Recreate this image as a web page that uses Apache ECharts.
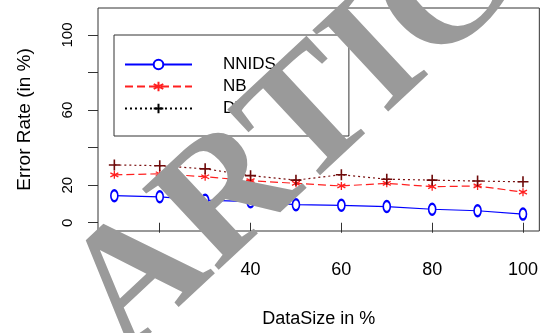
<!DOCTYPE html>
<html style="height: 100%">
<head>
    <meta charset="UTF-8">
    <script src="https://cdn.jsdelivr.net/npm/echarts@6/dist/echarts.min.js"></script>
</head>
<body style="height: 100%; margin: 0; background: #fff">
    <div id="main" style="width: 541px; height: 333px;"></div>
    <script type="text/javascript">
        var myChart = echarts.init(document.getElementById('main'));

        // data
        var dataSize = [10, 20, 30, 40, 50, 60, 70, 80, 90, 100];
        var nnids = [14.4, 13.8, 12.0, 11.2, 9.6, 9.3, 8.6, 7.2, 6.4, 4.6];
        var nb = [25.5, 26.1, 24.5, 22.4, 21.0, 19.6, 21.0, 19.2, 19.6, 16.3];
        var dt = [30.8, 30.4, 28.7, 25.1, 22.7, 25.6, 23.2, 22.7, 22.2, 21.8];
        var seriesNames = ['NNIDS', 'NB', 'DT'];
        var xTicks = [20, 40, 60, 80, 100];
        var yTicks = [0, 20, 40, 60, 80, 100];
        var yLabels = [0, 20, 60, 100];

        function pairs(vals) {
            return dataSize.map(function (x, i) { return [x, vals[i]]; });
        }

        var font = 'Liberation Sans';
        var starPath = 'path://M5,0L5,10M0.67,2.5L9.33,7.5M0.67,7.5L9.33,2.5';
        var plusPath = 'path://M5,0L5,10M0,5L10,5';

        var option = {
            backgroundColor: '#fff',
            animation: false,
            grid: {
                left: 98, top: 8, right: 1, bottom: 95,
                show: true, borderColor: '#333', borderWidth: 1
            },
            legend: {
                orient: 'vertical',
                left: 114, top: 35,
                itemWidth: 67, itemHeight: 12, itemGap: 5,
                padding: [21, 73, 19, 10],
                borderColor: '#333', borderWidth: 1,
                textStyle: { fontSize: 17, color: '#000', fontFamily: font, padding: [0, 0, 0, 26] },
                data: [
                    { name: seriesNames[0] },
                    { name: seriesNames[1] },
                    { name: seriesNames[2], itemStyle: { borderColor: '#000' }, lineStyle: { color: '#000' } }
                ]
            },
            xAxis: {
                type: 'value', min: 6.4, max: 103.6,
                name: 'DataSize in %', nameLocation: 'middle', nameGap: 79,
                nameTextStyle: { fontSize: 18, color: '#000', fontFamily: font },
                axisLine: { show: false },
                splitLine: { show: false },
                axisTick: { customValues: xTicks, length: 10, lineStyle: { color: '#333' } },
                axisLabel: { customValues: xTicks, margin: 30, fontSize: 18, color: '#000', fontFamily: font }
            },
            yAxis: {
                type: 'value', min: -4.4, max: 114.4,
                name: 'Error Rate (in %)', nameLocation: 'middle', nameGap: 64,
                nameTextStyle: { fontSize: 19, color: '#000', fontFamily: font },
                axisLine: { show: false },
                splitLine: { show: false },
                axisTick: { customValues: yTicks, length: 10, lineStyle: { color: '#333' } },
                axisLabel: { customValues: yLabels, rotate: 90, margin: 23, fontSize: 15, color: '#000', fontFamily: font }
            },
            series: [
                {
                    name: seriesNames[0], type: 'line', data: pairs(nnids),
                    symbol: 'emptyCircle', symbolSize: [7, 11],
                    itemStyle: { color: '#0000ff', borderColor: '#0000ff', borderWidth: 1.6 },
                    lineStyle: { color: '#0000ff', width: 1.2 }
                },
                {
                    name: seriesNames[1], type: 'line', data: pairs(nb),
                    symbol: starPath, symbolSize: 8,
                    itemStyle: { color: 'none', borderColor: '#ff2020', borderWidth: 1.3 },
                    lineStyle: { color: '#ff2020', width: 1.2, type: [8, 4] }
                },
                {
                    name: seriesNames[2], type: 'line', data: pairs(dt),
                    symbol: plusPath, symbolSize: 11,
                    itemStyle: { color: 'none', borderColor: '#6e0a0a', borderWidth: 1.6 },
                    lineStyle: { color: '#7a1010', width: 1.2, type: [2, 3] }
                }
            ],
            graphic: [{
                type: 'text',
                x: 96, y: 324,
                rotation: 43 * Math.PI / 180,
                z: 100,
                style: {
                    text: 'ARTICLE IN PRESS',
                    font: 'bold 170px "Liberation Serif"',
                    fill: '#9a9a9a',
                    textAlign: 'left',
                    textVerticalAlign: 'middle'
                }
            }]
        };

        myChart.setOption(option);
    </script>
</body>
</html>
